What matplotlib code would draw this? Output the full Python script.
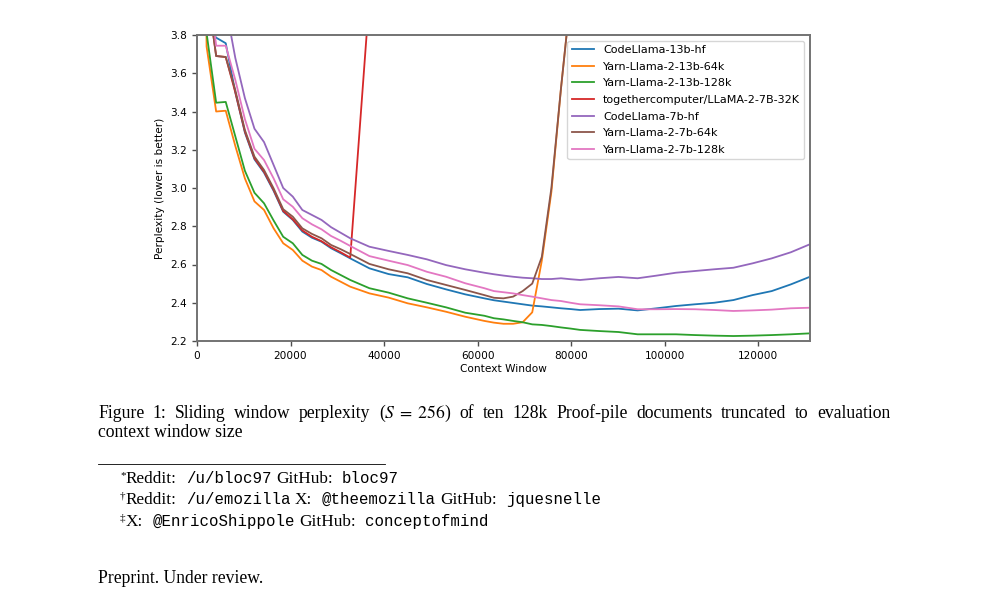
import matplotlib
matplotlib.use("Agg")
import matplotlib.pyplot as plt
from matplotlib.lines import Line2D

plt.rcParams['mathtext.fontset'] = 'stix'

# context window sizes
x = [1024, 2048, 4096, 6144, 8192, 10240, 12288, 14336, 16384, 18432,
     20480, 22528, 24576, 26624, 28672, 30720, 32768, 36864, 40960, 45056,
     49152, 53248, 57344, 61440, 63488, 65536, 67584, 69632, 71680, 73728,
     75776, 77824, 79872, 81920, 86016, 90112, 94208, 98304, 102400, 106496,
     110592, 114688, 118784, 122880, 126976, 131072]

codellama_13b = [6.0, 3.85, 3.786, 3.757, 3.50, 3.29, 3.15, 3.08, 2.985, 2.876,
                 2.833, 2.772, 2.74, 2.719, 2.685, 2.659, 2.632, 2.58, 2.55, 2.533,
                 2.498, 2.47, 2.444, 2.423, 2.413, 2.406, 2.399, 2.392, 2.385, 2.381,
                 2.376, 2.371, 2.367, 2.362, 2.367, 2.369, 2.36, 2.371, 2.383, 2.392,
                 2.40, 2.414, 2.44, 2.461, 2.496, 2.536]
yarn_13b_64k = [6.0, 3.74, 3.40, 3.404, 3.22, 3.05, 2.93, 2.885, 2.789, 2.711,
                2.676, 2.62, 2.589, 2.571, 2.536, 2.51, 2.484, 2.449, 2.427, 2.397,
                2.376, 2.353, 2.327, 2.305, 2.296, 2.29, 2.29, 2.298, 2.35, 2.62,
                2.98, 3.52, 4.0, 4.6, 5.4, 6.3, 7.1, 8.0, 8.8, 9.7,
                10.5, 11.4, 12.2, 13.1, 14.0, 14.8]
yarn_13b_128k = [6.0, 3.81, 3.446, 3.45, 3.27, 3.09, 2.975, 2.92, 2.83, 2.745,
                 2.711, 2.65, 2.62, 2.603, 2.571, 2.545, 2.519, 2.476, 2.453, 2.423,
                 2.40, 2.376, 2.348, 2.332, 2.319, 2.313, 2.305, 2.298, 2.287, 2.284,
                 2.278, 2.271, 2.265, 2.258, 2.252, 2.247, 2.235, 2.235, 2.235, 2.231,
                 2.228, 2.226, 2.228, 2.231, 2.235, 2.24]
together_7b_32k = [6.0, 4.06, 3.69, 3.685, 3.50, 3.295, 3.155, 3.085, 2.99, 2.88,
                   2.836, 2.778, 2.745, 2.722, 2.69, 2.664, 2.636, 4.0, 5.3, 6.4,
                   7.5, 8.4, 9.3, 10.1, 10.6, 11.0, 11.4, 11.9, 12.3, 12.7,
                   13.1, 13.5, 13.9, 14.3, 15.0, 15.8, 16.5, 17.2, 17.9, 18.6,
                   19.3, 20.0, 20.6, 21.3, 22.0, 22.6]
codellama_7b = [6.0, 4.6, 4.25, 3.95, 3.68, 3.47, 3.31, 3.24, 3.12, 3.00,
                2.955, 2.885, 2.859, 2.833, 2.795, 2.766, 2.737, 2.693, 2.671, 2.65,
                2.627, 2.597, 2.575, 2.557, 2.549, 2.542, 2.536, 2.531, 2.528, 2.524,
                2.524, 2.528, 2.523, 2.519, 2.528, 2.535, 2.528, 2.542, 2.557, 2.566,
                2.575, 2.583, 2.606, 2.632, 2.664, 2.706]
yarn_7b_64k = [6.0, 4.06, 3.69, 3.685, 3.511, 3.303, 3.164, 3.094, 2.998, 2.889,
               2.85, 2.789, 2.76, 2.737, 2.702, 2.68, 2.655, 2.603, 2.575, 2.554,
               2.519, 2.493, 2.467, 2.44, 2.426, 2.423, 2.432, 2.461, 2.50, 2.64,
               3.0, 3.52, 4.0, 4.6, 5.5, 6.4, 7.2, 8.1, 8.9, 9.8,
               10.6, 11.5, 12.3, 13.2, 14.1, 14.9]
yarn_7b_128k = [6.0, 4.19, 3.744, 3.744, 3.565, 3.36, 3.205, 3.146, 3.05, 2.941,
                2.902, 2.842, 2.81, 2.784, 2.749, 2.724, 2.697, 2.644, 2.62, 2.597,
                2.562, 2.536, 2.502, 2.476, 2.461, 2.455, 2.449, 2.44, 2.432, 2.423,
                2.414, 2.409, 2.40, 2.392, 2.387, 2.381, 2.366, 2.366, 2.367, 2.366,
                2.362, 2.357, 2.36, 2.364, 2.371, 2.374]

series = [("CodeLlama-13b-hf", codellama_13b),
          ("Yarn-Llama-2-13b-64k", yarn_13b_64k),
          ("Yarn-Llama-2-13b-128k", yarn_13b_128k),
          ("togethercomputer/LLaMA-2-7B-32K", together_7b_32k),
          ("CodeLlama-7b-hf", codellama_7b),
          ("Yarn-Llama-2-7b-64k", yarn_7b_64k),
          ("Yarn-Llama-2-7b-128k", yarn_7b_128k)]

caption1 = ["Figure", "1:", "Sliding", "window", "perplexity", r"($S\;=\;256$)",
            "of", "ten", "128k", "Proof-pile", "documents", "truncated", "to",
            "evaluation"]
caption2 = "context window size"

W, H = 991, 612
fig = plt.figure(figsize=(W / 100, H / 100), dpi=100)
ax = fig.add_axes([197 / W, 1 - 341 / H, 613 / W, 306 / H])

for name, vals in series:
    ax.plot(x, vals, lw=1.3, label=name)

ax.set_xlim(0, 131072)
ax.set_ylim(2.2, 3.8)
ax.set_xticks([0, 20000, 40000, 60000, 80000, 100000, 120000])
ax.set_yticks([2.2, 2.4, 2.6, 2.8, 3.0, 3.2, 3.4, 3.6, 3.8])
ax.tick_params(labelsize=7.6, color='0.3', width=1.0, length=3.5)
for s in ax.spines.values():
    s.set_color('0.45')
    s.set_linewidth(1.4)
ax.set_xlabel("Context Window", fontsize=7.6, labelpad=2)
ax.set_ylabel("Perplexity (lower is better)", fontsize=7.6, labelpad=4)
ax.legend(loc='upper right', fontsize=8.0, labelspacing=0.6)

# page text below the figure
renderer = fig.canvas.get_renderer()
serif = 'Liberation Serif'
mono = 'Liberation Mono'


def text_width(s, fam, size):
    t = fig.text(0, 0, s, family=fam, fontsize=size)
    w = t.get_window_extent(renderer).width
    t.remove()
    return w


def space_width(fam, size):
    return text_width("x x", fam, size) - text_width("xx", fam, size)


def put_runs(x0, y, runs):
    xx = x0
    for txt, fam, size, gap, dy in runs:
        xx += gap * space_width(fam, size)
        t = fig.text(xx / W, 1 - (y - dy) / H, txt, family=fam, fontsize=size,
                     va='baseline', ha='left')
        xx += t.get_window_extent(renderer).width


def put_justified(x0, x1, y, words, fam, size):
    widths = [text_width(w, fam, size) for w in words]
    gap = (x1 - x0 - sum(widths)) / (len(words) - 1)
    xx = x0
    for w, wd in zip(words, widths):
        fig.text(xx / W, 1 - y / H, w, family=fam, fontsize=size, va='baseline')
        xx += wd + gap


cap_size = 12.7
put_justified(98, 890, 418, caption1, serif, cap_size)
fig.text(98 / W, 1 - 437 / H, caption2, family=serif, fontsize=cap_size,
         va='baseline')

fig.add_artist(Line2D([98 / W, 385 / W], [1 - 464 / H, 1 - 464 / H],
                      transform=fig.transFigure, color='black', lw=0.6))

fs = 12.4
ms = 11.3
sup = 8
put_runs(120, 483, [("*", serif, sup, 0, 5),
                    ("Reddit:", serif, fs, 0, 0),
                    ("/u/bloc97", mono, ms, 1, 0),
                    ("GitHub:", serif, fs, 1, 0),
                    ("bloc97", mono, ms, 1, 0)])
put_runs(120, 504, [("\u2020", serif, sup, 0, 5),
                    ("Reddit:", serif, fs, 0, 0),
                    ("/u/emozilla", mono, ms, 1, 0),
                    ("X:", serif, fs, 1, 0),
                    ("@theemozilla", mono, ms, 1, 0),
                    ("GitHub:", serif, fs, 1, 0),
                    ("jquesnelle", mono, ms, 1, 0)])
put_runs(120, 526, [("\u2021", serif, sup, 0, 5),
                    ("X:", serif, fs, 0, 0),
                    ("@EnricoShippole", mono, ms, 1, 0),
                    ("GitHub:", serif, fs, 1, 0),
                    ("conceptofmind", mono, ms, 1, 0)])

fig.text(98 / W, 1 - 583 / H, "Preprint. Under review.", family=serif,
         fontsize=cap_size, va='baseline')

fig.savefig("out.png", dpi=100)
